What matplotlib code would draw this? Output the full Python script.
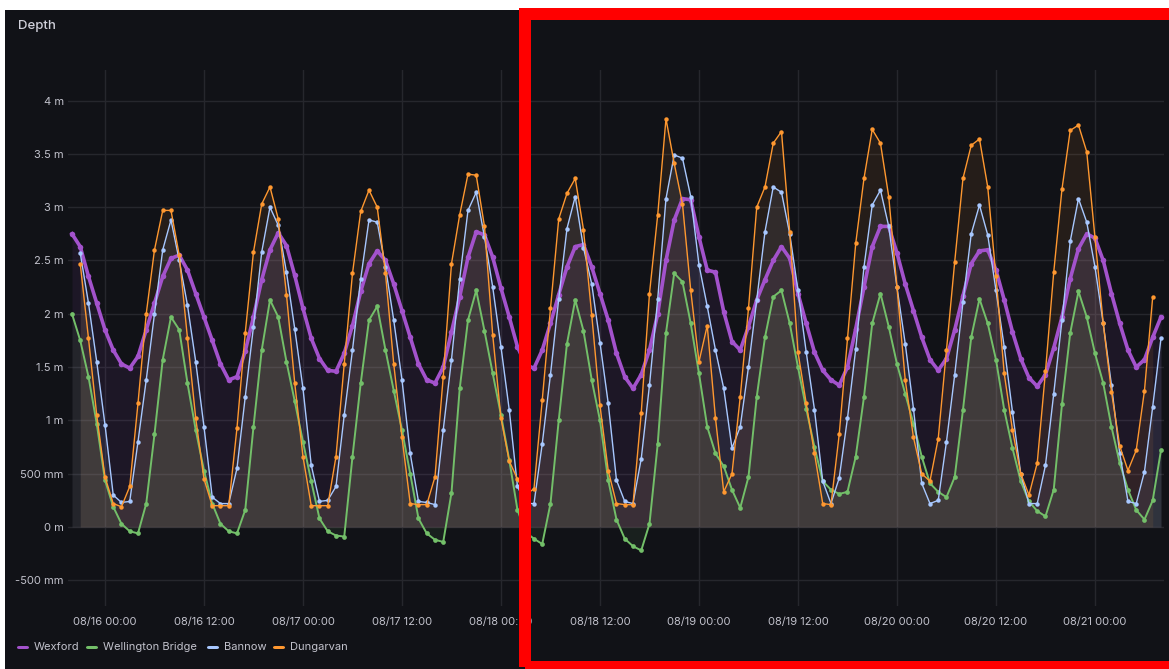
import numpy as np
import matplotlib
matplotlib.use("Agg")
import matplotlib.pyplot as plt
import matplotlib.dates as mdates
from matplotlib.patches import Rectangle, FancyBboxPatch
from matplotlib.ticker import FuncFormatter, MultipleLocator

plt.rcParams['font.family'] = ['Inter', 'DejaVu Sans']

# hourly readings (m), Wexford and Wellington Bridge start 08/15 20:00
wexford = [2.75, 2.63, 2.35, 2.10, 1.85, 1.66, 1.53, 1.49, 1.60, 1.85, 2.10, 2.35, 2.52,
           2.55, 2.41, 2.19, 1.97, 1.75, 1.53, 1.38, 1.41, 1.65, 1.97, 2.32, 2.60, 2.76,
           2.64, 2.36, 2.05, 1.77, 1.58, 1.47, 1.46, 1.63, 1.89, 2.21, 2.47, 2.59, 2.50,
           2.28, 2.03, 1.78, 1.53, 1.38, 1.35, 1.50, 1.83, 2.16, 2.53, 2.77, 2.74, 2.53,
           2.24, 1.97, 1.69, 1.52, 1.49, 1.66, 1.91, 2.18, 2.44, 2.63, 2.65, 2.44, 2.19,
           1.94, 1.63, 1.41, 1.30, 1.43, 1.66, 2.00, 2.50, 2.88, 3.08, 3.07, 2.72, 2.41,
           2.39, 2.02, 1.74, 1.66, 1.88, 2.13, 2.32, 2.50, 2.63, 2.52, 2.19, 1.91, 1.64,
           1.47, 1.38, 1.33, 1.50, 1.86, 2.25, 2.63, 2.82, 2.82, 2.57, 2.28, 2.03, 1.78,
           1.57, 1.47, 1.58, 1.85, 2.17, 2.47, 2.59, 2.60, 2.41, 2.13, 1.83, 1.58, 1.40,
           1.32, 1.43, 1.68, 1.97, 2.33, 2.61, 2.75, 2.71, 2.50, 2.19, 1.91, 1.66, 1.50,
           1.57, 1.78, 1.97]
wellington = [2.00, 1.75, 1.41, 0.97, 0.44, 0.19, 0.03, -0.04, -0.06, 0.22, 0.87, 1.57,
              1.97, 1.85, 1.35, 0.91, 0.53, 0.22, 0.03, -0.04, -0.06, 0.16, 0.94, 1.66,
              2.13, 1.97, 1.55, 1.18, 0.80, 0.43, 0.08, -0.04, -0.08, -0.09, 0.66, 1.35,
              1.94, 2.07, 1.66, 1.28, 0.91, 0.50, 0.08, -0.06, -0.12, -0.14, 0.32, 1.30,
              1.94, 2.22, 1.84, 1.44, 1.05, 0.63, 0.16, -0.05, -0.11, -0.16, 0.22, 1.00,
              1.72, 2.13, 1.84, 1.38, 1.00, 0.44, 0.07, -0.11, -0.18, -0.22, 0.03, 0.78,
              1.82, 2.38, 2.30, 1.91, 1.44, 0.94, 0.69, 0.57, 0.35, 0.18, 0.47, 1.22,
              1.78, 2.16, 2.22, 1.91, 1.50, 1.11, 0.75, 0.43, 0.35, 0.31, 0.33, 0.66,
              1.22, 1.91, 2.19, 1.88, 1.53, 1.25, 0.97, 0.66, 0.41, 0.33, 0.28, 0.47,
              1.10, 1.78, 2.14, 1.91, 1.57, 1.10, 0.74, 0.43, 0.24, 0.15, 0.10, 0.35,
              1.15, 1.82, 2.21, 1.97, 1.63, 1.35, 0.94, 0.60, 0.35, 0.16, 0.07, 0.25, 0.72]
# Bannow and Dungarvan start 08/15 21:00
bannow = [2.57, 2.10, 1.55, 0.96, 0.30, 0.23, 0.24, 0.80, 1.38, 2.00, 2.60, 2.88, 2.50,
          2.08, 1.55, 0.94, 0.28, 0.22, 0.22, 0.55, 1.22, 1.88, 2.58, 3.00, 2.83, 2.39,
          1.86, 1.30, 0.58, 0.24, 0.25, 0.38, 1.05, 1.66, 2.33, 2.88, 2.86, 2.44, 1.94,
          1.38, 0.69, 0.24, 0.23, 0.21, 0.91, 1.57, 2.33, 2.97, 3.14, 2.72, 2.25, 1.69,
          1.10, 0.38, 0.22, 0.22, 0.78, 1.43, 2.14, 2.80, 3.10, 2.62, 2.28, 1.73, 1.16,
          0.44, 0.24, 0.22, 0.64, 1.33, 2.14, 3.08, 3.49, 3.46, 3.10, 2.46, 2.07, 1.66,
          1.30, 0.74, 0.94, 1.50, 2.13, 2.77, 3.19, 3.14, 2.75, 2.22, 1.64, 1.10, 0.43,
          0.22, 0.46, 1.02, 1.67, 2.44, 3.02, 3.16, 2.82, 2.25, 1.72, 1.11, 0.41, 0.22,
          0.25, 0.80, 1.43, 2.11, 2.75, 3.02, 2.74, 2.22, 1.69, 1.08, 0.50, 0.22, 0.22,
          0.58, 1.25, 1.94, 2.68, 3.08, 2.86, 2.44, 1.91, 1.33, 0.69, 0.24, 0.22, 0.52,
          1.13, 1.77]
dungarvan = [2.47, 1.77, 1.05, 0.47, 0.22, 0.19, 0.38, 1.16, 2.00, 2.60, 2.97, 2.97, 2.55,
             1.77, 1.02, 0.45, 0.20, 0.20, 0.20, 0.93, 1.82, 2.58, 3.03, 3.19, 2.89, 2.18,
             1.35, 0.66, 0.20, 0.20, 0.20, 0.66, 1.53, 2.38, 2.96, 3.16, 3.00, 2.38, 1.53,
             0.84, 0.22, 0.21, 0.21, 0.47, 1.41, 2.47, 2.93, 3.31, 3.30, 2.82, 1.80, 1.02,
             0.62, 0.45, 0.30, 0.36, 1.19, 2.05, 2.89, 3.13, 3.27, 2.79, 1.99, 1.14, 0.53,
             0.22, 0.21, 0.21, 1.07, 2.19, 2.93, 3.83, 3.41, 3.03, 2.22, 1.55, 1.89, 1.02,
             0.33, 0.50, 1.22, 2.05, 3.00, 3.19, 3.60, 3.71, 2.77, 1.64, 1.16, 0.69, 0.22,
             0.21, 0.87, 1.77, 2.66, 3.27, 3.73, 3.60, 3.10, 2.25, 1.38, 0.84, 0.50, 0.43,
             0.83, 1.66, 2.49, 3.27, 3.58, 3.64, 3.19, 2.35, 1.44, 0.91, 0.50, 0.30, 0.60,
             1.46, 2.39, 3.17, 3.72, 3.77, 3.52, 2.72, 1.91, 1.27, 0.76, 0.53, 0.72, 1.28,
             2.16]

names = ["Wexford", "Wellington Bridge", "Bannow", "Dungarvan"]
colors = ["#A352CC", "#73BF69", "#A8C8FF", "#FF9830"]
starts = ["2024-08-15T20:00", "2024-08-15T20:00", "2024-08-15T21:00", "2024-08-15T21:00"]
series = [wexford, wellington, bannow, dungarvan]
widths = [2.6, 1.4, 1.0, 1.0]
dots = [4.0, 3.4, 3.2, 3.2]

W, H = 1169, 669
bg = "#111217"
txt = "#c2c2cc"

fig = plt.figure(figsize=(W / 100, H / 100), dpi=100, facecolor="white")
# dark panel
fig.add_artist(Rectangle((5 / W, 0), 1, 1 - 10 / H, transform=fig.transFigure,
                         facecolor=bg, edgecolor="none", zorder=0))

ax = fig.add_axes([68 / W, 1 - 606 / H, (1164 - 68) / W, (606 - 70) / H])
ax.set_facecolor(bg)
for s in ax.spines.values():
    s.set_visible(False)

for i, (vals, c, st) in enumerate(zip(series, colors, starts)):
    t = np.datetime64(st) + np.arange(len(vals)) * np.timedelta64(1, "h")
    v = np.array(vals)
    ax.fill_between(t, v, 0, color=c, alpha=0.085, lw=0, zorder=1 + i)
    ax.plot(t, v, color=c, lw=widths[i], marker="o", ms=dots[i], mew=0, zorder=5 + i)

t0 = np.datetime64("2024-08-16T00:00")
ax.set_xlim(t0 - np.timedelta64(269, "m"), t0 + np.timedelta64(7702, "m"))
ax.set_ylim(-0.741, 4.287)

ax.xaxis.set_major_locator(mdates.HourLocator(byhour=[0, 12]))
ax.xaxis.set_major_formatter(mdates.DateFormatter("%m/%d %H:%M"))
ax.yaxis.set_major_locator(MultipleLocator(0.5))


def fmt_m(v, pos):
    if abs(v) < 1e-9:
        return "0 m"
    if abs(v) < 1:
        return f"{v * 1000:.0f} mm"
    return f"{v:g} m"


ax.yaxis.set_major_formatter(FuncFormatter(fmt_m))
ax.tick_params(axis="both", length=0, colors=txt, labelsize=8)
ax.tick_params(axis="y", pad=3)
ax.tick_params(axis="x", pad=8)
ax.grid(True, color="#26272d", lw=1)
ax.set_axisbelow(True)

fig.text(18 / W, 1 - 26 / H, "Depth", color="#d0d0da", fontsize=9.5,
         fontweight="medium", va="center", ha="left")

# legend
lx = [17, 86, 207, 273]
for x, name, c in zip(lx, names, colors):
    fig.add_artist(FancyBboxPatch((x / W, 1 - 649 / H), 12 / W, 3 / H,
                                  boxstyle="round,pad=0,rounding_size=0.002",
                                  transform=fig.transFigure, facecolor=c,
                                  edgecolor="none"))
    fig.text((x + 17) / W, 1 - 647 / H, name, color=txt, fontsize=8,
             va="center", ha="left")

# red highlight box
fig.add_artist(Rectangle((525 / W, 1 - 667 / H), (1171 - 525) / W, (667 - 14) / H,
                         transform=fig.transFigure, facecolor="none",
                         edgecolor="#ff0000", lw=12 * 0.72, zorder=20, clip_on=False))

fig.savefig("out.png", dpi=100, facecolor="white")
